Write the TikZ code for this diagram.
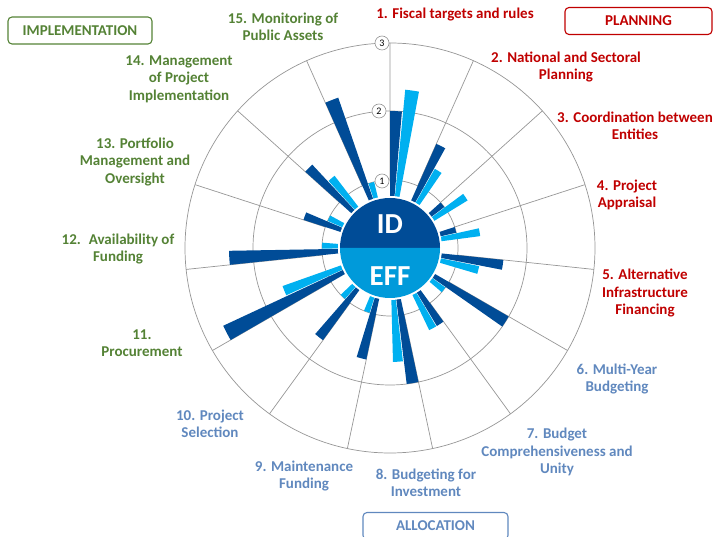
\documentclass[tikz,border=0pt]{standalone}
\usepackage{fontspec}
\setmainfont{Carlito}
\usetikzlibrary{calc,positioning}
\definecolor{iddark}{RGB}{0,76,151}
\definecolor{efflight}{RGB}{0,176,240}
\definecolor{effcore}{RGB}{0,154,218}
\definecolor{planred}{RGB}{192,0,0}
\definecolor{allocblue}{RGB}{96,136,190}
\definecolor{implgreen}{RGB}{84,130,53}
\definecolor{gridgray}{RGB}{150,150,150}
\newcommand{\chartbar}[4]{\fill[#1] (#2:44pt) arc[start angle=#2, end angle=#3, radius=44pt] -- (#3:#4) arc[start angle=#3, end angle=#2, radius=#4] -- cycle;}

\begin{document}
\begin{tikzpicture}[
    x=1pt, y=1pt,
    every node/.style={align=center, inner sep=0pt, font=\bfseries\fontsize{15}{17.5}\selectfont},
    planlabel/.style={text=planred},
    alloclabel/.style={text=allocblue},
    impllabel/.style={text=implgreen},
    phasebox/.style={draw, rounded corners=4pt, line width=1.1pt, minimum height=27pt, font=\bfseries\fontsize{15}{16}\selectfont},
    ringnum/.style={circle, draw=gridgray, fill=white, line width=0.6pt, minimum size=14pt, font=\fontsize{10}{10}\selectfont},
    gridline/.style={draw=gridgray, line width=0.7pt},
    idbar/.style={fill=iddark},
    effbar/.style={fill=efflight},
    corelabel/.style={text=white, font=\bfseries\fontsize{29}{29}\selectfont}
]
\useasboundingbox (0,0) rectangle (716,-537);

\coordinate (center) at (390,-248);

\begin{scope}[shift={(center)}]
\draw[gridline] (0,0) circle[radius=68pt];
\draw[gridline] (0,0) circle[radius=137pt];
\draw[gridline] (0,0) circle[radius=205pt];
\draw[gridline] (90:68pt) -- (90:205pt) (66:68pt) -- (66:205pt) (42:68pt) -- (42:205pt)
    (18:68pt) -- (18:205pt) (-6:68pt) -- (-6:205pt) (-30:68pt) -- (-30:205pt)
    (-54:68pt) -- (-54:205pt) (-78:68pt) -- (-78:205pt) (-102:68pt) -- (-102:205pt)
    (-126:68pt) -- (-126:205pt) (-150:68pt) -- (-150:205pt) (-174:68pt) -- (-174:205pt)
    (-198:68pt) -- (-198:205pt) (-222:68pt) -- (-222:205pt) (-246:68pt) -- (-246:205pt);

\chartbar{idbar}{90}{85}{137pt}
\chartbar{effbar}{84.5}{79.5}{159pt}
\chartbar{idbar}{66}{61}{114pt}
\chartbar{effbar}{60.5}{55.5}{91pt}
\chartbar{idbar}{42}{37}{68pt}
\chartbar{effbar}{36.5}{31.5}{91pt}
\chartbar{idbar}{18}{13}{68pt}
\chartbar{effbar}{12.5}{7.5}{91pt}
\chartbar{idbar}{-6}{-11}{114pt}
\chartbar{effbar}{-11.5}{-16.5}{91pt}
\chartbar{idbar}{-30}{-35}{137pt}
\chartbar{effbar}{-35.5}{-40.5}{68pt}
\chartbar{idbar}{-54}{-59}{91pt}
\chartbar{effbar}{-59.5}{-64.5}{91pt}
\chartbar{idbar}{-78}{-83}{137pt}
\chartbar{effbar}{-83.5}{-88.5}{114pt}
\chartbar{idbar}{-102}{-107}{114pt}
\chartbar{effbar}{-107.5}{-112.5}{68pt}
\chartbar{idbar}{-126}{-131}{114pt}
\chartbar{effbar}{-131.5}{-136.5}{68pt}
\chartbar{idbar}{-150}{-155}{184pt}
\chartbar{effbar}{-155.5}{-160.5}{114pt}
\chartbar{idbar}{-174}{-179}{161pt}
\chartbar{effbar}{-179.5}{-184.5}{68pt}
\chartbar{idbar}{-198}{-203}{91pt}
\chartbar{effbar}{-203.5}{-208.5}{68pt}
\chartbar{idbar}{-222}{-227}{114pt}
\chartbar{effbar}{-227.5}{-232.5}{91pt}
\chartbar{idbar}{-246}{-251}{159pt}
\chartbar{effbar}{-251.5}{-256.5}{68pt}

\fill[white] (0,0) circle[radius=52pt];
\fill[iddark] (0:50pt) arc[start angle=0, end angle=180, radius=50pt] -- cycle;
\fill[effcore] (180:50pt) arc[start angle=180, end angle=360, radius=50pt] -- cycle;
\end{scope}

\node[ringnum] (ringone) at (382,-181) {1};
\node[ringnum] (ringtwo) at (379,-111) {2};
\node[ringnum] (ringthree) at (382,-43) {3};

\node[corelabel] (idtext) at (390,-224) {ID};
\node[corelabel] (efftext) at (390,-276) {EFF};

\node[planlabel] (fiscal) at (455,-15) {1. Fiscal targets and rules};
\node[planlabel] (national) at (566,-67) {2. National and Sectoral\\Planning};
\node[planlabel] (coordination) at (635,-126) {3. Coordination between\\Entities};
\node[planlabel] (appraisal) at (627,-195) {4. Project\\Appraisal};
\node[planlabel] (altfinance) at (645,-293) {5. Alternative\\Infrastructure\\Financing};

\node[alloclabel] (multiyear) at (617,-379) {6. Multi-Year\\Budgeting};
\node[alloclabel] (comprehensive) at (557,-452) {7. Budget\\Comprehensiveness and\\Unity};
\node[alloclabel] (investment) at (426,-483) {8. Budgeting for\\Investment};
\node[alloclabel] (maintenance) at (304,-476) {9. Maintenance\\Funding};
\node[alloclabel] (selection) at (210,-424) {10. Project\\Selection};

\node[impllabel] (procurement) at (142,-343) {11.\\Procurement};
\node[impllabel] (availability) at (118,-249) {12.~ Availability of\\Funding};
\node[impllabel] (portfolio) at (135,-162) {13. Portfolio\\Management and\\Oversight};
\node[impllabel] (management) at (179,-79) {14. Management\\of Project\\Implementation};
\node[impllabel] (monitoring) at (283,-27) {15. Monitoring of\\Public Assets};

\node[phasebox, draw=implgreen, text=implgreen, minimum width=144pt] (implbox) at (80,-30.5) {IMPLEMENTATION};
\node[phasebox, draw=planred, text=planred, minimum width=147pt] (planbox) at (638.5,-21) {PLANNING};
\node[phasebox, draw=allocblue, text=allocblue, minimum width=145pt] (allocbox) at (435.5,-526) {ALLOCATION};

\end{tikzpicture}
\end{document}
